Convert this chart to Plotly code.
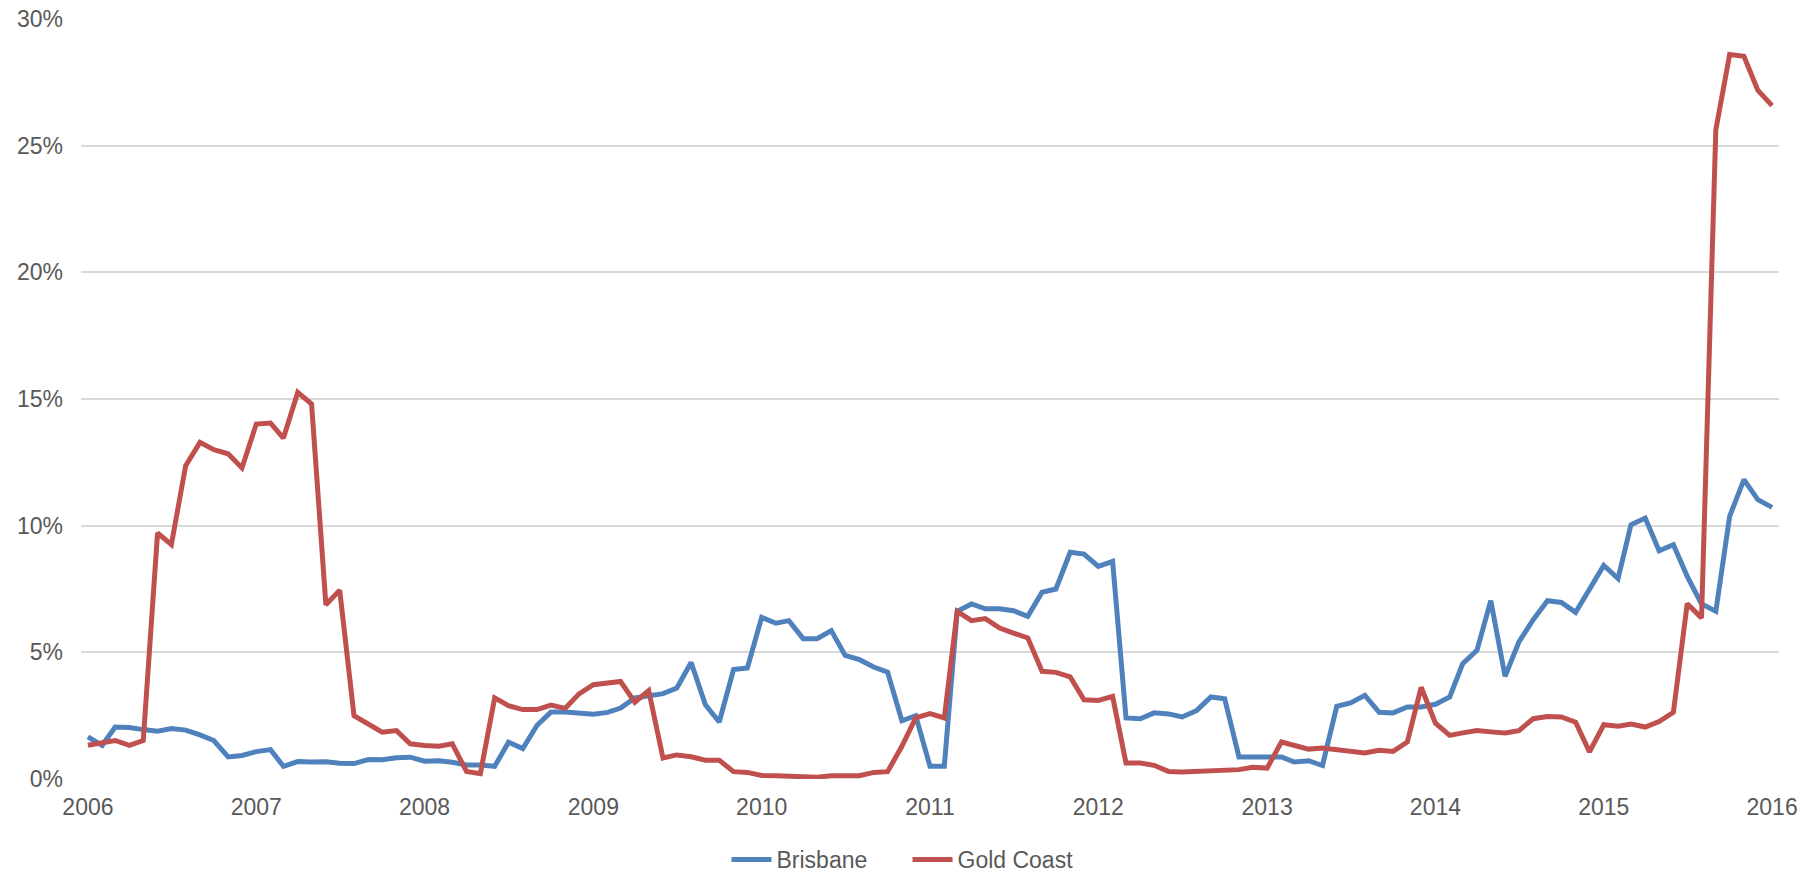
import pandas as pd
import plotly.graph_objects as go

# ---------------------------------------------------------------------------
# Data: monthly values, Jan 2006 - Jan 2016 (percent)
# ---------------------------------------------------------------------------

months = pd.date_range("2006-01-01", "2016-01-01", freq="MS")

brisbane = [
    1.66, 1.33, 2.05, 2.03, 1.95, 1.89, 1.99, 1.93, 1.74, 1.52, 0.87, 0.93,
    1.08, 1.16, 0.50, 0.69, 0.67, 0.68, 0.62, 0.61, 0.77, 0.76, 0.84, 0.86,
    0.70, 0.72, 0.66, 0.55, 0.55, 0.50, 1.45, 1.20, 2.12, 2.64, 2.64, 2.58,
    2.56, 2.63, 2.80, 3.20, 3.30, 3.37, 3.59, 4.60, 2.93, 2.25, 4.32, 4.38,
    6.38, 6.15, 6.25, 5.54, 5.54, 5.86, 4.88, 4.71, 4.42, 4.22, 2.30, 2.50,
    0.50, 0.50, 6.62, 6.91, 6.72, 6.72, 6.64, 6.42, 7.37, 7.50, 8.95, 8.88,
    8.39, 8.59, 2.41, 2.38, 2.61, 2.57, 2.45, 2.70, 3.24, 3.17, 0.87, 0.87,
    0.90, 0.87, 0.67, 0.72, 0.53, 2.87, 3.00, 3.30, 2.63, 2.61, 2.84, 2.84,
    2.95, 3.24, 4.55, 5.08, 7.04, 4.05, 5.41, 6.29, 7.04, 6.97, 6.58, 7.47,
    8.43, 7.91, 10.04, 10.30, 9.01, 9.25, 8.00, 6.91, 6.62, 10.37, 11.82, 11.03,
    10.72,
]

gold_coast = [
    1.33, 1.42, 1.52, 1.33, 1.52, 9.71, 9.25, 12.37, 13.29, 13.00, 12.84, 12.28,
    14.01, 14.05, 13.46, 15.26, 14.80, 6.88, 7.45, 2.50, 2.17, 1.85, 1.91, 1.39,
    1.32, 1.29, 1.39, 0.30, 0.21, 3.20, 2.89, 2.74, 2.74, 2.92, 2.79, 3.36,
    3.72, 3.79, 3.85, 3.03, 3.49, 0.83, 0.95, 0.88, 0.74, 0.74, 0.29, 0.26,
    0.14, 0.13, 0.11, 0.10, 0.07, 0.13, 0.13, 0.13, 0.26, 0.29, 1.29, 2.41,
    2.58, 2.41, 6.62, 6.25, 6.33, 5.96, 5.76, 5.57, 4.25, 4.21, 4.03, 3.13,
    3.10, 3.26, 0.63, 0.63, 0.54, 0.30, 0.28, 0.30, 0.34, 0.34, 0.37, 0.46,
    0.43, 1.46, 1.31, 1.18, 1.22, 1.16, 1.09, 1.03, 1.13, 1.09, 1.46, 3.62,
    2.20, 1.72, 1.82, 1.91, 1.86, 1.82, 1.91, 2.38, 2.47, 2.45, 2.24, 1.07,
    2.14, 2.08, 2.17, 2.05, 2.27, 2.63, 6.92, 6.36, 25.63, 28.60, 28.53, 27.19,
    26.58,
]

year_ticks = pd.date_range("2006-01-01", "2016-01-01", freq="YS")
year_labels = [str(d.year) for d in year_ticks]

# ---------------------------------------------------------------------------
# Figure
# ---------------------------------------------------------------------------

FONT = "Liberation Sans, Arial, sans-serif"
GREY = "#595959"

fig = go.Figure()
fig.add_trace(go.Scatter(
    x=months, y=brisbane, mode="lines", name="Brisbane",
    line={"color": "#4F81BD", "width": 5},
))
fig.add_trace(go.Scatter(
    x=months, y=gold_coast, mode="lines", name="Gold Coast",
    line={"color": "#C0504D", "width": 5},
))

fig.update_layout(
    width=1815, height=873,
    margin={"l": 81, "r": 36, "t": 19, "b": 94, "autoexpand": False},
    paper_bgcolor="white", plot_bgcolor="white",
    font={"family": FONT, "size": 23, "color": GREY},
    showlegend=True,
    legend={
        "orientation": "h", "xref": "container", "yref": "paper",
        "x": 0.5, "xanchor": "center", "y": -0.106, "yanchor": "middle",
        "font": {"size": 23, "color": GREY}, "itemwidth": 40,
        "entrywidth": 126,
    },
    xaxis={
        "range": ["2005-12-17", "2016-01-16"],
        "tickvals": year_ticks, "ticktext": year_labels,
        "showgrid": False, "zeroline": False, "showline": False,
        "ticks": "", "ticklabelstandoff": 12, "automargin": False,
    },
    yaxis={
        "range": [0, 30], "dtick": 5, "ticksuffix": "%",
        "showgrid": True, "gridcolor": "#D9D9D9", "gridwidth": 1.5,
        "zeroline": False, "showline": False,
        "ticks": "", "ticklabelstandoff": 17, "automargin": False,
    },
)

# drop the browser's default 8px body margin so the figure sits at 0,0
fig.write_html(
    "out.html",
    config={"displayModeBar": False},
    post_script="document.body.style.margin='0';",
)
